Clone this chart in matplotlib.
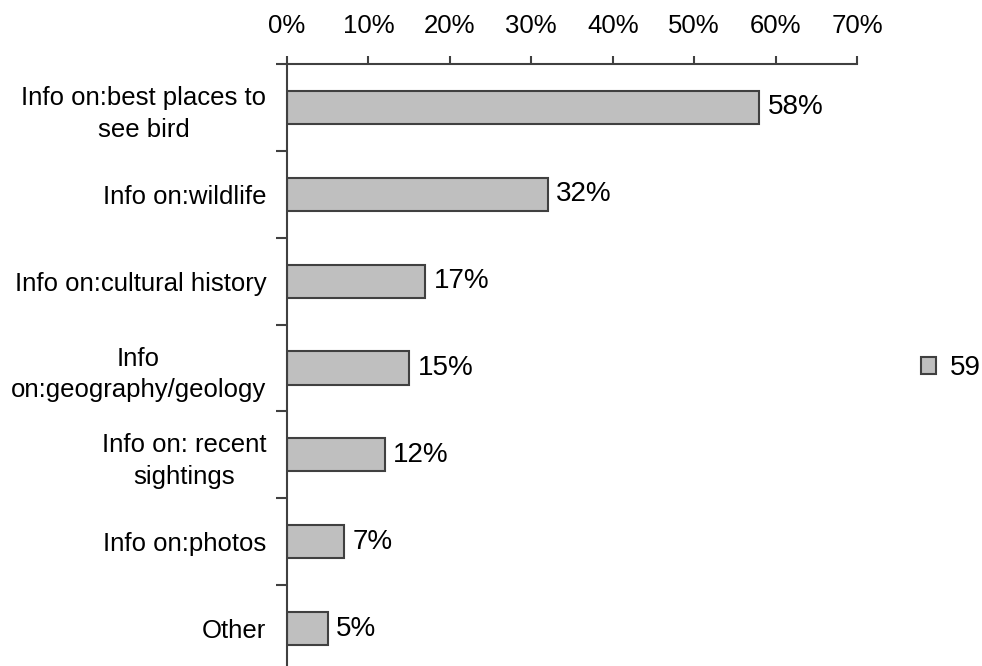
import matplotlib.pyplot as plt
import numpy as np

plt.rcParams['font.family'] = ['Liberation Sans', 'DejaVu Sans']

# data
categories = ['Info on:best places to\nsee bird', 'Info on:wildlife',
              'Info on:cultural history', 'Info\non:geography/geology',
              'Info on: recent\nsightings', 'Info on:photos', 'Other']
values = [58, 32, 17, 15, 12, 7, 5]
x_ticks = [0, 10, 20, 30, 40, 50, 60, 70]
series_name = '59'

dark = '#404040'
fig = plt.figure(figsize=(9.82, 6.66), dpi=100)
ax = fig.add_axes([287 / 982, (666 - 672) / 666, 570 / 982, 608 / 666])

pos = np.arange(len(categories))
bars = ax.barh(pos, values, height=0.38, color='#bfbfbf', edgecolor=dark,
               linewidth=1.5, label=series_name)
ax.set_ylim(len(categories) - 0.5, -0.5)
ax.set_xlim(0, 70)

# value labels
for p, v in zip(pos, values):
    ax.annotate(f'{v}%', (v, p), xytext=(6, 0), textcoords='offset points',
                va='center', ha='left', fontsize=20)

# x axis on top
ax.xaxis.tick_top()
ax.set_xticks(x_ticks)
ax.set_xticklabels([f'{t}%' for t in x_ticks], fontsize=18.5)
ax.tick_params(axis='x', direction='out', length=6, width=1.5, color=dark, pad=13)

# y labels at centers, ticks at category boundaries
ax.set_yticks(pos)
ax.set_yticklabels(categories, fontsize=18.5)
for lab in ax.get_yticklabels():
    lab.set_multialignment('center')
    lab.set_linespacing(1.4)
ax.tick_params(axis='y', which='major', length=0, pad=15)
ax.set_yticks(np.arange(len(categories) + 1) - 0.5, minor=True)
ax.tick_params(axis='y', which='minor', length=8, width=1.5, color=dark, direction='out')

for s in ['right', 'bottom']:
    ax.spines[s].set_visible(False)
for s in ['top', 'left']:
    ax.spines[s].set_color(dark)
    ax.spines[s].set_linewidth(1.5)

leg = fig.legend(loc='center left', bbox_to_anchor=(921 / 982, 1 - 368 / 666),
                 frameon=False, fontsize=20, handlelength=0.55, handleheight=0.55,
                 handletextpad=0.5, borderpad=0, borderaxespad=0)

fig.savefig('out.png', dpi=100)
